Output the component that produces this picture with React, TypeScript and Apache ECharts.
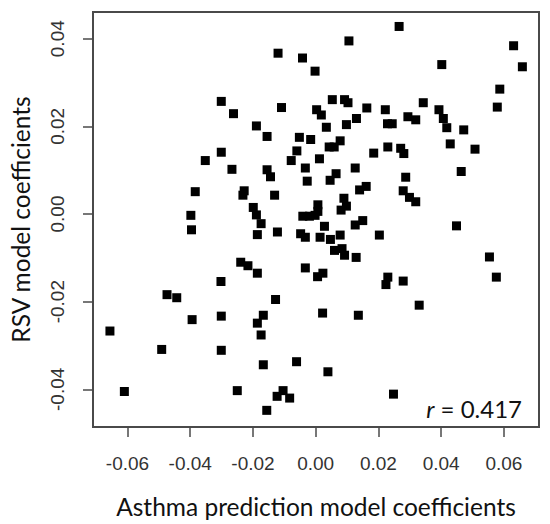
import { useEffect, useRef } from 'react'
import * as echarts from 'echarts'

// Asthma prediction model coefficients (x) and RSV model coefficients (y), one entry per gene
const asthmaCoef = [
  -0.0120, -0.0042, -0.0002, 0.0106, 0.0266, 0.0631, 0.0659, 0.0402, 0.0587, 0.0579,
  -0.0301, -0.0262, -0.0109, 0.0053, 0.0092, 0.0103, 0.0163, 0.0222, 0.0343, 0.0393,
  0.0407, 0.0418, 0.0003, 0.0018, 0.0034, 0.0098, 0.0130, 0.0229, 0.0244, 0.0294,
  0.0319, 0.0472, -0.0189, -0.0155, -0.0052, -0.0016, 0.0043, 0.0059, 0.0078, 0.0429,
  0.0508, 0.0230, 0.0271, 0.0281, 0.0185, -0.0060, -0.0301, -0.0352, -0.0078, 0.0012,
  0.0464, 0.0126, -0.0033, -0.0267, -0.0155, -0.0144, -0.0027, 0.0065, 0.0046, 0.0287,
  -0.0384, -0.0228, -0.0232, -0.0131, 0.0140, 0.0161, 0.0279, 0.0299, 0.0319, 0.0090,
  0.0098, 0.0081, 0.0007, 0.0007, -0.0041, -0.0020, -0.0002, -0.0398, -0.0199, -0.0189,
  -0.0396, -0.0174, -0.0186, -0.0122, -0.0048, -0.0033, 0.0014, 0.0028, 0.0047, 0.0078,
  0.0126, 0.0150, 0.0203, 0.0449, 0.0554, 0.0060, 0.0084, 0.0092, 0.0129, 0.0576,
  -0.0239, -0.0216, -0.0186, -0.0033, 0.0006, 0.0023, 0.0230, 0.0224, 0.0279, -0.0302,
  -0.0474, -0.0443, -0.0128, 0.0330, -0.0394, -0.0301, -0.0186, -0.0167, -0.0174, 0.0022,
  0.0136, -0.0656, -0.0491, -0.0301, -0.0167, -0.0061, 0.0039, -0.0610, -0.0250, -0.0123,
  -0.0104, -0.0083, -0.0156, 0.0248,
]

const rsvCoef = [
  0.0367, 0.0356, 0.0326, 0.0395, 0.0428, 0.0384, 0.0336, 0.0341, 0.0285, 0.0244,
  0.0257, 0.0229, 0.0243, 0.0261, 0.0261, 0.0254, 0.0242, 0.0238, 0.0254, 0.0238,
  0.0218, 0.0197, 0.0238, 0.0226, 0.0198, 0.0204, 0.0218, 0.0206, 0.0206, 0.0222,
  0.0215, 0.0192, 0.0201, 0.0177, 0.0175, 0.0170, 0.0153, 0.0153, 0.0167, 0.0160,
  0.0148, 0.0153, 0.0150, 0.0138, 0.0139, 0.0144, 0.0141, 0.0122, 0.0122, 0.0126,
  0.0097, 0.0105, 0.0105, 0.0102, 0.0101, 0.0085, 0.0075, 0.0092, 0.0077, 0.0084,
  0.0051, 0.0053, 0.0043, 0.0043, 0.0055, 0.0063, 0.0053, 0.0038, 0.0028, 0.0036,
  0.0018, 0.0009, 0.0021, 0.0006, -0.0005, -0.0005, -0.0003, -0.0003, 0.0015, -0.0002,
  -0.0036, -0.0022, -0.0047, -0.0041, -0.0045, -0.0053, -0.0053, -0.0028, -0.0058, -0.0048,
  -0.0025, -0.0015, -0.0048, -0.0027, -0.0098, -0.0083, -0.0079, -0.0094, -0.0099, -0.0144,
  -0.0110, -0.0118, -0.0135, -0.0123, -0.0143, -0.0135, -0.0144, -0.0161, -0.0153, -0.0154,
  -0.0184, -0.0191, -0.0195, -0.0208, -0.0241, -0.0233, -0.0249, -0.0231, -0.0276, -0.0226,
  -0.0231, -0.0267, -0.0309, -0.0311, -0.0344, -0.0337, -0.0360, -0.0405, -0.0403, -0.0416,
  -0.0403, -0.0420, -0.0448, -0.0411,
]

const xTicks = [-0.06, -0.04, -0.02, 0, 0.02, 0.04, 0.06]
const yTicks = [-0.04, -0.02, 0, 0.02, 0.04]
const correlationLabel = '0.417'

export default function App() {
  const chartRef = useRef<HTMLDivElement>(null)

  useEffect(() => {
    if (!chartRef.current) return

    const chart = echarts.init(chartRef.current, null, { renderer: 'svg' })

    const points = asthmaCoef.map((x, i) => [x, rsvCoef[i]])
    const tickLabel = (v: number) => v.toFixed(2)

    const option = {
      animation: false,
      grid: {
        left: 92,
        right: 11,
        top: 12,
        bottom: 95,
        show: true,
        borderColor: '#4a4a4a',
        borderWidth: 2,
        backgroundColor: 'transparent',
      },
      xAxis: {
        type: 'value',
        min: -0.071,
        max: 0.0712,
        name: 'Asthma prediction model coefficients',
        nameLocation: 'middle',
        nameGap: 67,
        nameTextStyle: { fontFamily: 'Lato', fontSize: 24.5, color: '#111' },
        axisLine: { show: false, onZero: false },
        splitLine: { show: false },
        axisTick: {
          show: true,
          length: 10,
          customValues: xTicks,
          lineStyle: { color: '#4a4a4a', width: 1.5 },
        },
        axisLabel: {
          customValues: xTicks,
          formatter: tickLabel,
          margin: 27,
          fontFamily: 'Liberation Sans',
          fontSize: 19,
          color: '#333',
        },
      },
      yAxis: {
        type: 'value',
        min: -0.0486,
        max: 0.0461,
        name: 'RSV model coefficients',
        nameLocation: 'middle',
        nameGap: 60,
        nameTextStyle: { fontFamily: 'Lato', fontSize: 24.5, color: '#111' },
        axisLine: { show: false, onZero: false },
        splitLine: { show: false },
        axisTick: {
          show: true,
          length: 10,
          customValues: yTicks,
          lineStyle: { color: '#4a4a4a', width: 1.5 },
        },
        axisLabel: {
          customValues: yTicks,
          formatter: tickLabel,
          rotate: 90,
          margin: 26,
          fontFamily: 'Liberation Sans',
          fontSize: 19,
          color: '#333',
        },
      },
      graphic: [
        {
          type: 'text',
          right: 28,
          top: 396,
          style: {
            text: '{i|r} = ' + correlationLabel,
            fontFamily: 'Lato',
            fontSize: 24,
            fill: '#111',
            rich: {
              i: { fontStyle: 'italic', fontFamily: 'Lato', fontSize: 24, fill: '#111' },
            },
          },
        },
      ],
      series: [
        {
          type: 'scatter',
          symbol: 'rect',
          symbolSize: 9,
          itemStyle: { color: '#000', opacity: 1 },
          data: points,
        },
      ],
    }

    chart.setOption(option)

    return () => {
      chart.dispose()
    }
  }, [])

  return (
    <div
      ref={chartRef}
      style={{ position: 'absolute', left: 0, top: 0, width: '550px', height: '524px', background: '#fff' }}
    />
  )
}
